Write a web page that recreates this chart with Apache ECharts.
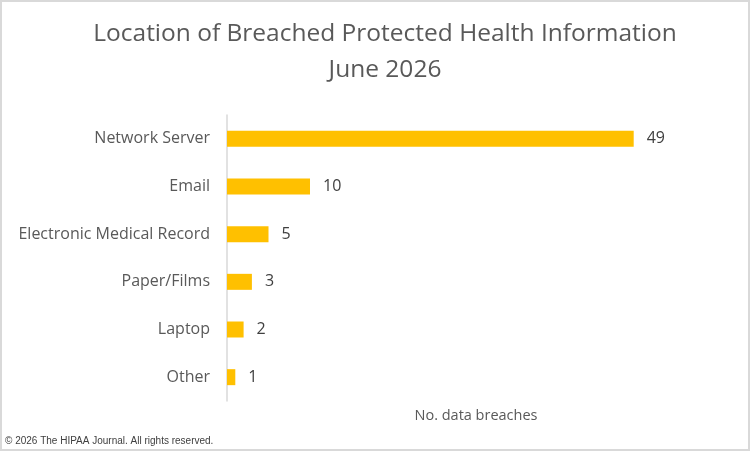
<!DOCTYPE html>
<html>
<head>
<meta charset="utf-8">
<script src="https://cdn.jsdelivr.net/npm/echarts@6/dist/echarts.min.js"></script>
<style>
html,body{margin:0;padding:0;background:#fff;}
#chart{width:750px;height:451px;}
</style>
</head>
<body>
<div id="chart"></div>
<script>
// categories listed bottom to top (category axis on y starts from the bottom)
var categories = ['Other', 'Laptop', 'Paper/Films', 'Electronic Medical Record', 'Email', 'Network Server'];
var breaches = [1, 2, 3, 5, 10, 49];
var titleLines = ['Location of Breached Protected Health Information', 'June 2026'];
var axisName = 'No. data breaches';
var footer = '\u00a9 2026 The HIPAA Journal. All rights reserved.';

var chart = echarts.init(document.getElementById('chart'));
var option = {
    backgroundColor: '#fff',
    animation: false,
    title: {
        text: titleLines.join('\n'),
        left: 380,
        textAlign: 'center',
        top: 11,
        textStyle: {
            fontFamily: 'Open Sans',
            fontSize: 24.5,
            fontWeight: 'normal',
            color: '#595959',
            lineHeight: 36
        }
    },
    grid: {
        left: 227,
        right: 25,
        top: 115,
        bottom: 50,
        containLabel: false
    },
    xAxis: {
        type: 'value',
        min: 0,
        max: 60,
        axisLine: {show: false},
        axisTick: {show: false},
        axisLabel: {show: false},
        splitLine: {show: false},
        name: axisName,
        nameLocation: 'middle',
        nameGap: 7,
        nameTextStyle: {
            fontFamily: 'Open Sans',
            fontSize: 14.5,
            color: '#595959'
        }
    },
    yAxis: {
        type: 'category',
        data: categories,
        axisLine: {show: true, lineStyle: {color: '#d9d9d9', width: 1.5}},
        axisTick: {show: false},
        axisLabel: {
            margin: 17,
            fontFamily: 'Open Sans',
            fontSize: 16,
            color: '#595959'
        }
    },
    series: [{
        type: 'bar',
        data: breaches,
        barWidth: 16,
        itemStyle: {color: '#FFC000'},
        label: {
            show: true,
            position: 'right',
            distance: 13,
            fontFamily: 'Open Sans',
            fontSize: 16,
            color: '#404040'
        }
    }],
    graphic: [
        {
            type: 'rect',
            shape: {x: 1, y: 1, width: 748, height: 449},
            style: {fill: 'none', stroke: '#d9d9d9', lineWidth: 2},
            silent: true
        },
        {
            type: 'text',
            left: 5,
            top: 436,
            style: {
                text: footer,
                fontFamily: 'Arial',
                fontSize: 10,
                fill: '#404040'
            }
        }
    ]
};
chart.setOption(option);
window.onresize = chart.resize;
</script>
</body>
</html>
